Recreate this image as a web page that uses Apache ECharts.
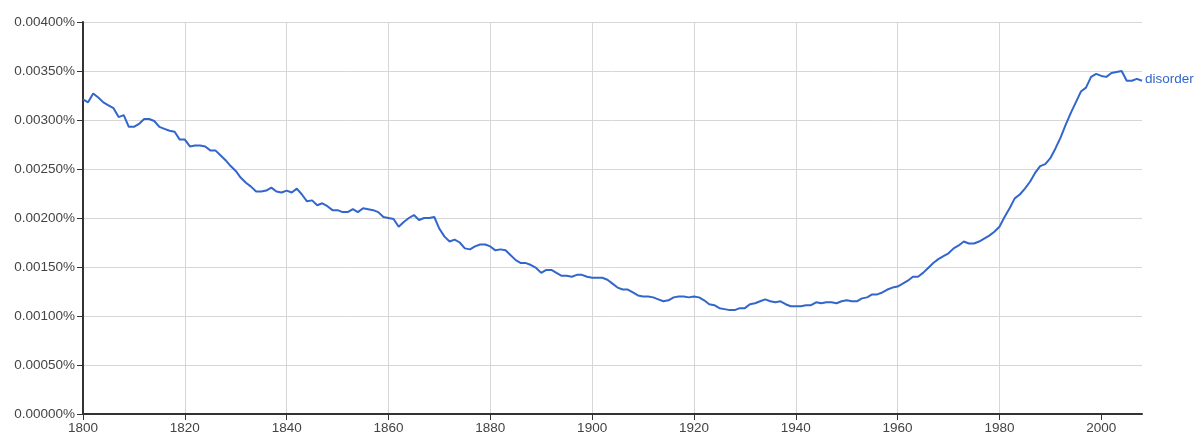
<!DOCTYPE html>
<html>
<head>
<meta charset="utf-8">
<script src="https://cdn.jsdelivr.net/npm/echarts@6/dist/echarts.min.js"></script>
<style>
html,body{margin:0;padding:0;background:#fff;}
#c{width:1200px;height:442px;}
</style>
</head>
<body>
<div id="c"></div>
<script>
const startYear = 1800;
const seriesName = 'disorder';
// values in percent
const disorder = [
 0.00321,0.00318,0.00327,0.00323,0.00318,0.00315,0.00312,0.00303,0.00305,0.00293,
 0.00293,0.00296,0.00301,0.00301,0.00299,0.00293,0.00291,0.00289,0.00288,0.00280,
 0.00280,0.00273,0.00274,0.00274,0.00273,0.00269,0.00269,0.00264,0.00259,0.00253,
 0.00248,0.00241,0.00236,0.00232,0.00227,0.00227,0.00228,0.00231,0.00227,0.00226,
 0.00228,0.00226,0.00230,0.00224,0.00217,0.00218,0.00213,0.00215,0.00212,0.00208,
 0.00208,0.00206,0.00206,0.00209,0.00206,0.00210,0.00209,0.00208,0.00206,0.00201,
 0.00200,0.00199,0.00191,0.00196,0.00200,0.00203,0.00198,0.00200,0.00200,0.00201,
 0.00189,0.00181,0.00176,0.00178,0.00175,0.00169,0.00168,0.00171,0.00173,0.00173,
 0.00171,0.00167,0.00168,0.00167,0.00162,0.00157,0.00154,0.00154,0.00152,0.00149,
 0.00144,0.00147,0.00147,0.00144,0.00141,0.00141,0.00140,0.00142,0.00142,0.00140,
 0.00139,0.00139,0.00139,0.00137,0.00133,0.00129,0.00127,0.00127,0.00124,0.00121,
 0.00120,0.00120,0.00119,0.00117,0.00115,0.00116,0.00119,0.00120,0.00120,0.00119,
 0.00120,0.00119,0.00116,0.00112,0.00111,0.00108,0.00107,0.00106,0.00106,0.00108,
 0.00108,0.00112,0.00113,0.00115,0.00117,0.00115,0.00114,0.00115,0.00112,0.00110,
 0.00110,0.00110,0.00111,0.00111,0.00114,0.00113,0.00114,0.00114,0.00113,0.00115,
 0.00116,0.00115,0.00115,0.00118,0.00119,0.00122,0.00122,0.00124,0.00127,0.00129,
 0.00130,0.00133,0.00136,0.00140,0.00140,0.00144,0.00149,0.00154,0.00158,0.00161,
 0.00164,0.00169,0.00172,0.00176,0.00174,0.00174,0.00176,0.00179,0.00182,0.00186,
 0.00191,0.00201,0.00210,0.00220,0.00224,0.00230,0.00237,0.00246,0.00253,0.00255,
 0.00261,0.00271,0.00282,0.00295,0.00307,0.00318,0.00329,0.00333,0.00344,0.00347,
 0.00345,0.00344,0.00348,0.00349,0.00350,0.00340,0.00340,0.00342,0.00340
];
const xTickValues = [1800,1820,1840,1860,1880,1900,1920,1940,1960,1980,2000];
const yMin = 0, yMax = 0.004, yStep = 0.0005;

const data = disorder.map((v,i)=>[startYear+i, v]);
const chart = echarts.init(document.getElementById('c'), null, {renderer:'canvas'});
const font = 'Liberation Sans, Arial, sans-serif';
chart.setOption({
  animation:false,
  backgroundColor:'#fff',
  grid:{left:83,right:58,top:22,bottom:28,containLabel:false},
  xAxis:{
    type:'value', min:1800, max:1800+disorder.length-1, interval:20,
    axisLine:{show:true,lineStyle:{color:'#333',width:2}},
    axisTick:{show:true,length:6,lineStyle:{color:'#333',width:1},customValues:xTickValues},
    axisLabel:{color:'#444',fontSize:13.5,fontFamily:font,margin:7,customValues:xTickValues,formatter:v=>String(v)},
    splitLine:{show:true,showMinLine:false,showMaxLine:false,lineStyle:{color:'#d6d6d6',width:1}}
  },
  yAxis:{
    type:'value', min:yMin, max:yMax, interval:yStep,
    axisLine:{show:true,lineStyle:{color:'#333',width:2}},
    axisTick:{show:true,length:6,lineStyle:{color:'#333',width:1}},
    axisLabel:{color:'#444',fontSize:13.5,fontFamily:font,margin:8,formatter:v=>v.toFixed(5)+'%'},
    splitLine:{show:true,lineStyle:{color:'#d6d6d6',width:1}}
  },
  series:[{
    name:seriesName, type:'line', data:data, symbol:'none', smooth:false,
    lineStyle:{color:'#3366cc',width:2},
    endLabel:{show:true,formatter:seriesName,color:'#3366cc',fontSize:13.5,fontFamily:font,distance:3,offset:[0,-2]}
  }]
});
</script>
</body>
</html>
